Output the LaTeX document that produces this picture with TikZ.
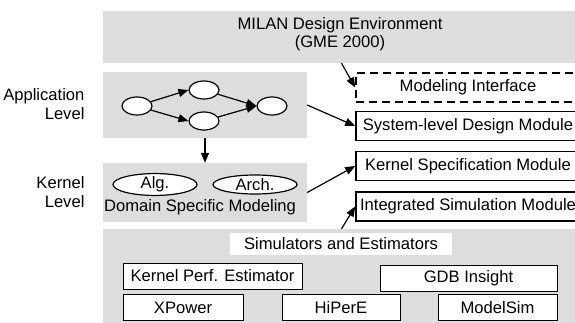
\documentclass[tikz,border=0pt]{standalone}
\usepackage{fontspec}
\setmainfont{Liberation Sans}
\usetikzlibrary{shapes.geometric,arrows.meta}
\definecolor{panelgray}{RGB}{221,221,221}

\begin{document}
\begin{tikzpicture}[x=1pt,y=-1pt,
  font=\fontsize{16.6}{18.5}\selectfont,
  panel/.style={fill=panelgray,inner sep=0},
  module/.style={draw,fill=white,line width=1.6pt,minimum width=224,minimum height=29,inner sep=0},
  tool/.style={draw,fill=white,line width=0.8pt,minimum height=26,inner sep=0},
  state/.style={ellipse,draw,fill=white,line width=1.2pt,minimum width=30,minimum height=18,inner sep=0},
  domainnode/.style={ellipse,draw,fill=white,line width=1.2pt,minimum width=84,minimum height=19,inner sep=0},
  link/.style={line width=1.2pt,-{Triangle[length=10pt,width=8pt]}}]

  \clip (0,0) rectangle (575,322);

  \node [panel,minimum width=477,minimum height=52] (milan) at (341.5,37) {};
  \node [align=center] (milanlbl) at (340,34) {MILAN Design Environment\\(GME 2000)};

  \begin{scope}[panel]
    \node [panel,minimum width=204,minimum height=66] (app) at (205,105) {};
    \node [panel,minimum width=204,minimum height=59] (kern) at (205,192.5) {};
    \node [panel,minimum width=477,minimum height=101] (sim) at (341.5,279.5) {};
  \end{scope}

  \node [align=right,anchor=east] (applbl) at (88,104) {Application\\Level};
  \node [align=right,anchor=east] (kernlbl) at (88,192) {Kernel\\Level};

  \node [state] (s1) at (137,106) {};
  \node [state] (s2) at (204,90) {};
  \node [state] (s3) at (204,121) {};
  \node [state] (s4) at (272,106) {};
  \draw [link] (s1) -- (s2.west);
  \draw [link] (s1) -- (s3.west);
  \draw [link] (s2) -- (s4.west);
  \draw [link] (s3) -- (s4.west);

  \node [domainnode] (alg) at (155,184.5) {Alg.};
  \node [domainnode] (arch) at (255,184.5) {Arch.};
  \node (dsm) at (200,207) {Domain Specific Modeling};

  \node [module,dash pattern=on 8pt off 5pt] (mi) at (468,87.5) {Modeling Interface};
  \node [module] (sl) at (468,126) {System-level Design Module};
  \node [module] (ks) at (468,166) {Kernel Specification Module};
  \node [module] (is) at (468,206.5) {Integrated Simulation Module};

  \node [fill=white,minimum width=222,minimum height=22,inner sep=0] (simlbl) at (341,244) {Simulators and Estimators};
  \node [tool,minimum width=179] (kpe) at (212.5,276) {Kernel Perf. Estimator};
  \node [tool,minimum width=177] (gdb) at (468.5,278) {GDB Insight};
  \node [tool,minimum width=120] (xp) at (183,307.5) {XPower};
  \node [tool,minimum width=118] (hp) at (341,307.5) {HiPerE};
  \node [tool,minimum width=119] (ms) at (497.5,307.5) {ModelSim};

  \draw [link] (app.south) -- (kern.north);
  \draw [link] (milan.south) -- (mi.west);
  \draw [link] (app.east) -- (sl.west);
  \draw [link] (kern.east) -- (ks.west);
  \draw [link] (sim.north) -- (is.west);
\end{tikzpicture}
\end{document}
